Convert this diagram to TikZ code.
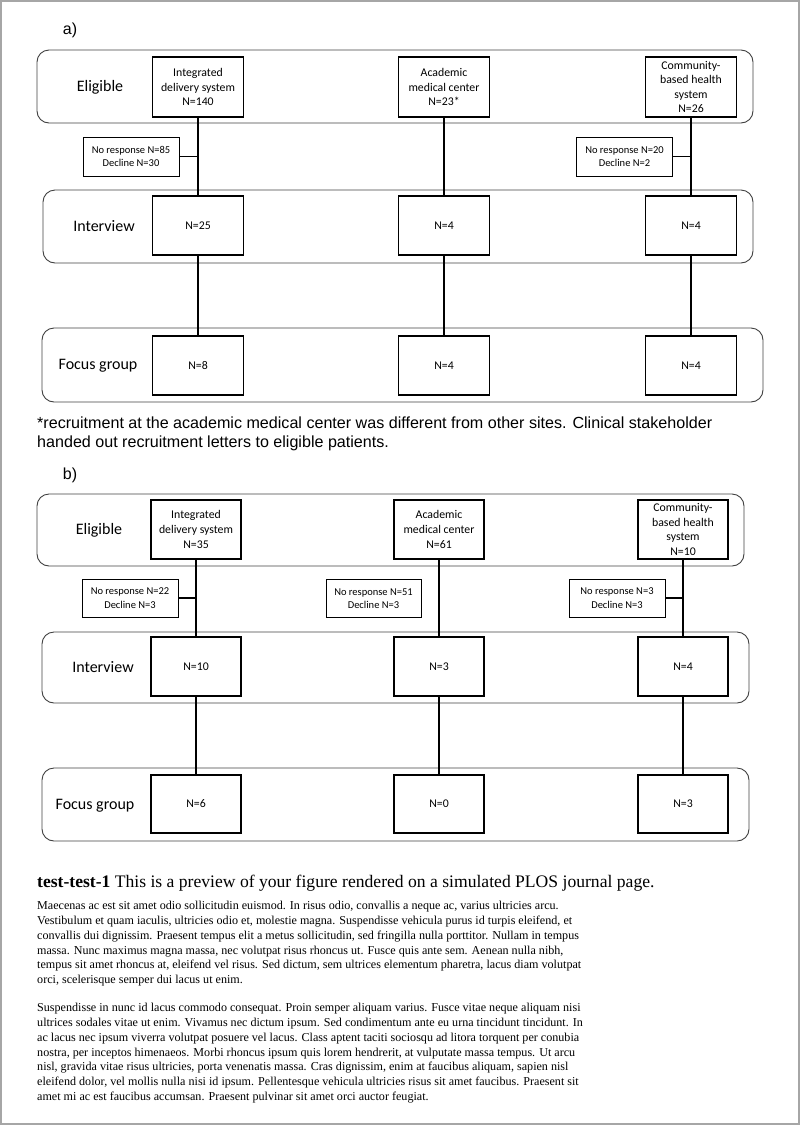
\documentclass[tikz,border=0pt]{standalone}
\usepackage{fontspec}
\setmainfont{Liberation Serif}
\setsansfont{Liberation Sans}
\newfontfamily\boxfont{Carlito}
\usetikzlibrary{positioning}

\begin{document}
\begin{tikzpicture}[x=1pt, y=-1pt,
  every node/.style={font=\boxfont},
  row/.style={draw=black!75, line width=0.9pt, rounded corners=12pt},
  site/.style={draw, line width=1.1pt, minimum width=91pt, minimum height=60pt, inner sep=1pt, align=center, font=\boxfont\fontsize{11.8}{14.6}\selectfont},
  drop/.style={draw, line width=1pt, minimum width=96pt, minimum height=39pt, inner sep=1pt, align=center, font=\boxfont\fontsize{10.5}{13.3}\selectfont},
  rowlabel/.style={font=\boxfont\fontsize{16}{19}\selectfont},
  link/.style={line width=1.1pt}]
  \useasboundingbox (0,0) rectangle (800,1125);
  % page frame
  \draw[black!35, line width=2pt] (1,1) rectangle (799,1124);

  % ---------- a) ----------
  \node[font=\sffamily\fontsize{16}{19}\selectfont] (parta) at (70,30) {a)};
  % rows
  \node[row, minimum width=716pt, minimum height=73pt] (eligA) at (395,86.5) {};
  \node[row, minimum width=710pt, minimum height=73pt] (intA) at (398,226.5) {};
  \node[row, minimum width=721pt, minimum height=74pt] (focA) at (402.5,365) {};
  \node[rowlabel] (eligAlab) at (100,87) {Eligible};
  \node[rowlabel] (intAlab) at (104,226) {Interview};
  \node[rowlabel] (focAlab) at (98,366) {Focus group};
  % sites
  \node[site] (eA1) at (198,87) {Integrated\\delivery system\\N=140};
  \node[site] (eA2) at (444,87) {Academic\\medical center\\N=23*};
  \node[site] (eA3) at (691,87) {Community-\\based health\\system\\N=26};
  \node[site, minimum height=59pt] (iA1) at (198,225.5) {N=25};
  \node[site, minimum height=59pt] (iA2) at (444,225.5) {N=4};
  \node[site, minimum height=59pt] (iA3) at (691,225.5) {N=4};
  \node[site, minimum height=59pt] (fA1) at (198,365.5) {N=8};
  \node[site, minimum height=59pt] (fA2) at (444,365.5) {N=4};
  \node[site, minimum height=59pt] (fA3) at (691,365.5) {N=4};
  % losses
  \node[drop] (dA1) at (131,156.5) {No response N=85\\Decline N=30};
  \node[drop] (dA3) at (624.5,156.5) {No response N=20\\Decline N=2};
  % links
  \draw[link] (eA1.south) -- (iA1.north);
  \draw[link] (eA2.south) -- (iA2.north);
  \draw[link] (eA3.south) -- (iA3.north);
  \draw[link] (iA1.south) -- (fA1.north);
  \draw[link] (iA2.south) -- (fA2.north);
  \draw[link] (iA3.south) -- (fA3.north);
  \draw[link] (dA1.east) -- (dA1.east -| eA1.south);
  \draw[link] (dA3.east) -- (dA3.east -| eA3.south);

  % footnote
  \node[anchor=north west, inner sep=0pt, align=left, font=\sffamily\fontsize{16.1}{19}\selectfont] (note) at (37,416.5) {*recruitment at the academic medical center was different from other sites. Clinical stakeholder\\handed out recruitment letters to eligible patients.};

  % ---------- b) ----------
  \node[font=\sffamily\fontsize{16}{19}\selectfont] (partb) at (70,475) {b)};
  % rows
  \node[row, minimum width=707pt, minimum height=72pt] (eligB) at (390.5,530) {};
  \node[row, minimum width=707pt, minimum height=71pt] (intB) at (395.5,667.5) {};
  \node[row, minimum width=707pt, minimum height=73pt] (focB) at (395.5,804.5) {};
  \node[rowlabel] (eligBlab) at (99,530) {Eligible};
  \node[rowlabel] (intBlab) at (103,667) {Interview};
  \node[rowlabel] (focBlab) at (95,806) {Focus group};
  % sites
  \node[site, minimum width=90pt, minimum height=59pt] (eB1) at (196,529.5) {Integrated\\delivery system\\N=35};
  \node[site, minimum width=90pt, minimum height=59pt] (eB2) at (439,529.5) {Academic\\medical center\\N=61};
  \node[site, minimum width=90pt, minimum height=59pt] (eB3) at (683,529.5) {Community-\\based health\\system\\N=10};
  \node[site, minimum width=90pt, minimum height=59pt] (iB1) at (196,666.5) {N=10};
  \node[site, minimum width=90pt, minimum height=59pt] (iB2) at (439,666.5) {N=3};
  \node[site, minimum width=90pt, minimum height=59pt] (iB3) at (683,666.5) {N=4};
  \node[site, minimum width=90pt, minimum height=58pt] (fB1) at (196,804) {N=6};
  \node[site, minimum width=90pt, minimum height=58pt] (fB2) at (439,804) {N=0};
  \node[site, minimum width=90pt, minimum height=58pt] (fB3) at (683,804) {N=3};
  % losses
  \node[drop, minimum height=38pt] (dB1) at (130,598) {No response N=22\\Decline N=3};
  \node[drop, minimum width=95pt, minimum height=38pt] (dB2) at (373.5,598.5) {No response N=51\\Decline N=3};
  \node[drop, minimum height=38pt] (dB3) at (617,598) {No response N=3\\Decline N=3};
  % links
  \draw[link] (eB1.south) -- (iB1.north);
  \draw[link] (eB2.south) -- (iB2.north);
  \draw[link] (eB3.south) -- (iB3.north);
  \draw[link] (iB1.south) -- (fB1.north);
  \draw[link] (iB2.south) -- (fB2.north);
  \draw[link] (iB3.south) -- (fB3.north);
  \draw[link] (dB1.east) -- (dB1.east -| eB1.south);
  \draw[link] (dB3.east) -- (dB3.east -| eB3.south);

  % caption and page text
  \node[anchor=base west, inner sep=0pt, font=\rmfamily\fontsize{17.6}{20}\selectfont] (caption) at (37,887) {\textbf{test-test-1} This is a preview of your figure rendered on a simulated PLOS journal page.};
  \node[anchor=north west, inner sep=0pt, align=left, font=\rmfamily\fontsize{12.1}{14.8}\selectfont] (body1) at (37,901) {Maecenas ac est sit amet odio sollicitudin euismod. In risus odio, convallis a neque ac, varius ultricies arcu.\\
Vestibulum et quam iaculis, ultricies odio et, molestie magna. Suspendisse vehicula purus id turpis eleifend, et\\
convallis dui dignissim. Praesent tempus elit a metus sollicitudin, sed fringilla nulla porttitor. Nullam in tempus\\
massa. Nunc maximus magna massa, nec volutpat risus rhoncus ut. Fusce quis ante sem. Aenean nulla nibh,\\
tempus sit amet rhoncus at, eleifend vel risus. Sed dictum, sem ultrices elementum pharetra, lacus diam volutpat\\
orci, scelerisque semper dui lacus ut enim.};
  \node[anchor=north west, inner sep=0pt, align=left, font=\rmfamily\fontsize{12.1}{14.8}\selectfont] (body2) at (37,1003) {Suspendisse in nunc id lacus commodo consequat. Proin semper aliquam varius. Fusce vitae neque aliquam nisi\\
ultrices sodales vitae ut enim. Vivamus nec dictum ipsum. Sed condimentum ante eu urna tincidunt tincidunt. In\\
ac lacus nec ipsum viverra volutpat posuere vel lacus. Class aptent taciti sociosqu ad litora torquent per conubia\\
nostra, per inceptos himenaeos. Morbi rhoncus ipsum quis lorem hendrerit, at vulputate massa tempus. Ut arcu\\
nisl, gravida vitae risus ultricies, porta venenatis massa. Cras dignissim, enim at faucibus aliquam, sapien nisl\\
eleifend dolor, vel mollis nulla nisi id ipsum. Pellentesque vehicula ultricies risus sit amet faucibus. Praesent sit\\
amet mi ac est faucibus accumsan. Praesent pulvinar sit amet orci auctor feugiat.};
\end{tikzpicture}
\end{document}
